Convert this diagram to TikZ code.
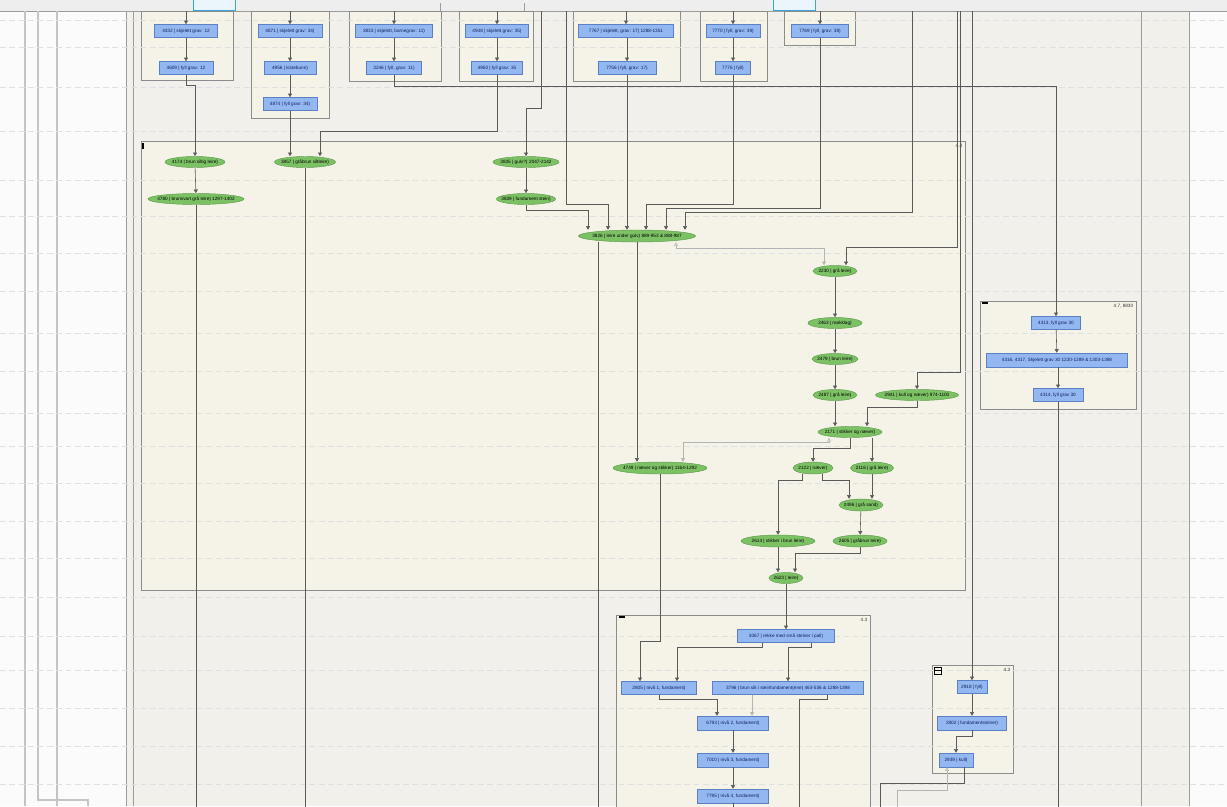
\documentclass[tikz,border=0pt]{standalone}
\usepackage{fontspec}
\newfontfamily\diagfont{Liberation Sans}
\usetikzlibrary{shapes.geometric,positioning,arrows.meta,calc}
\definecolor{pagecol}{HTML}{FBFBFB}
\definecolor{canvas}{HTML}{F2F0EA}
\definecolor{stripcol}{HTML}{EEEEEE}
\definecolor{lanecol}{HTML}{9C9C9C}
\definecolor{leftcol}{HTML}{C4C4C4}
\definecolor{rankcol}{HTML}{E0E0E0}
\definecolor{stripedge}{HTML}{3BA4DC}
\definecolor{stripfill}{HTML}{EAF5FC}
\definecolor{grpfill}{HTML}{F5F3E7}
\definecolor{grpedge}{HTML}{8C8C8C}
\definecolor{boxfill}{HTML}{93B7F0}
\definecolor{boxedge}{HTML}{5B80C6}
\definecolor{boxtext}{HTML}{10205A}
\definecolor{lyrfill}{HTML}{7CC265}
\definecolor{lyredge}{HTML}{5D9B4C}
\definecolor{edgecol}{HTML}{5A5A5A}
\definecolor{weakcol}{HTML}{B4B4B4}
\newcommand\nt[1]{\makebox[0pt]{#1}}
\newcommand\smallfont{\diagfont\fontsize{4}{4.4}\selectfont}

\begin{document}
\begin{tikzpicture}[x=0.03cm, y=-0.03cm,
  ctx/.style={draw=boxedge, fill=boxfill, rectangle, inner sep=0pt, minimum height=13*0.03cm, font=\smallfont, text=boxtext},
  lyr/.style={draw=lyredge, fill=lyrfill, ellipse, inner sep=0pt, minimum height=11*0.03cm, font=\smallfont, text=black},
  wd/.style={minimum width=#1*0.03cm},
  ht/.style={minimum height=#1*0.03cm},
  grp/.style={draw=grpedge, fill=grpfill, line width=0.7pt},
  edge/.style={draw=edgecol, line width=0.5pt, -{Triangle[width=3.4pt,length=3.2pt]}},
  link/.style={draw=edgecol, line width=0.5pt},
  weak/.style={draw=weakcol, line width=0.5pt, {Triangle[open,width=3.4pt,length=3.2pt]}-{Triangle[width=3.4pt,length=3.2pt]}},
  weakend/.style={draw=weakcol, line width=0.5pt, -{Triangle[width=3.4pt,length=3.2pt]}},
  weakstart/.style={draw=weakcol, line width=0.5pt, {Triangle[open,width=3.4pt,length=3.2pt]}-},
  rank/.style={draw=rankcol, line width=0.4pt, dash pattern=on 5pt off 3pt},
  tag/.style={font=\smallfont, inner sep=0.5pt, text=black!80}
]
  \useasboundingbox (0,0) rectangle (1227,806);

  % background lanes
  \fill[pagecol] (0,0) rectangle (1227,806);
  \fill[canvas] (126,11) rectangle (1189,806);
  \fill[stripcol] (0,0) rectangle (1227,11);
  \draw[lanecol, line width=0.6pt] (0,11) -- (1227,11);
  \foreach \x in {126,133,1141,1189}
    \draw[lanecol, line width=0.6pt] (\x,11) -- (\x,806);
  \draw[leftcol, line width=0.9pt] (25,11) -- (25,806);
  \draw[leftcol, line width=0.9pt] (57,11) -- (57,806);
  \draw[leftcol, line width=0.9pt] (38,11) -- (38,800) -- (88,800) -- (88,806);
  \draw[stripedge, fill=stripfill, line width=0.6pt] (193,-1) rectangle (235,10);
  \draw[stripedge, fill=stripfill, line width=0.6pt] (773,-1) rectangle (815,10);
  \draw[lanecol, line width=0.6pt] (440,3) -- (440,11);
  \draw[lanecol, line width=0.6pt] (524,3) -- (524,11);

  % groups
  \draw[grp] (141,11) rectangle (233,80);
  \draw[grp] (251,11) rectangle (329,118);
  \draw[grp] (349,11) rectangle (441,81);
  \draw[grp] (459,11) rectangle (533,81);
  \draw[grp] (573,11) rectangle (680,81);
  \draw[grp] (700,11) rectangle (767,81);
  \draw[grp] (784,11) rectangle (855,45);
  \draw[grp] (141,141) rectangle (965,590);
  \draw[grp] (980,301) rectangle (1136,409);
  \draw[grp] (616,615) rectangle (870,812);
  \draw[grp] (932,665) rectangle (1013,773);

  \foreach \y in {20,47,87,131,180,216,253,291,333,371,413,446,483,521,558,597,636,670,708,746,784}
    \draw[rank] (0,\y) -- (1227,\y);

  % group marks
  \fill[black] (142,143) rectangle (144,149);
  \fill[black] (982,302) rectangle (988,304);
  \fill[black] (619,616) rectangle (625,618);
  \draw[black, line width=0.5pt] (934,667) rectangle (941,674);
  \draw[black, line width=0.5pt] (934,670.5) -- (941,670.5);
  \node[tag, anchor=north east] (lbl44) at (963,143) {4.4};
  \node[tag, anchor=north east] (lbl47) at (1134,303) {4.7, 8830};
  \node[tag, anchor=north east] (lbl43) at (868,617) {4.3};
  \node[tag, anchor=north east] (lbl42) at (1011,667) {4.3};

  % contexts (boxes)
  \node[ctx, wd=63] (n4432) at (186,31) {\nt{4432 | skjelett grav: 12}};
  \node[ctx, wd=54] (n4609) at (186,68) {\nt{4609 | fyll grav: 12}};
  \node[ctx, wd=64] (n4871) at (290,31) {\nt{4871 | skjelett grav: 34)}};
  \node[ctx, wd=52] (n4956) at (290,68) {\nt{4956 | kistebunn)}};
  \node[ctx, wd=54] (n4874) at (290,104) {\nt{4874 | fyll grav: 34)}};
  \node[ctx, wd=77] (n3833) at (394,31) {\nt{3833 | skjelett, barnegrav: 11)}};
  \node[ctx, wd=55] (n3246) at (394,68) {\nt{3246 | fyll, grav: 11)}};
  \node[ctx, wd=63] (n4948) at (497,31) {\nt{4948 | skjelett grav: 35)}};
  \node[ctx, wd=51] (n4950) at (497,68) {\nt{4950 | fyll grav: 35}};
  \node[ctx, wd=95] (n7767) at (626,31) {\nt{7767 | skjelett, grav: 17) 1288-1351}};
  \node[ctx, wd=58] (n7756) at (627,68) {\nt{7756 | fyll, grav: 17)}};
  \node[ctx, wd=54] (n7770) at (733,31) {\nt{7770 | fyll, grav: 39)}};
  \node[ctx, wd=35] (n7776) at (733,68) {\nt{7776 | fyll)}};
  \node[ctx, wd=57] (n7769) at (820,31) {\nt{7769 | fyll, grav: 38)}};

  \node[ctx, wd=49] (n4313) at (1056,323) {\nt{4313, fyll grav 30}};
  \node[ctx, wd=141, ht=14] (n4316) at (1057,360) {\nt{4316, 4317, Skjelett grav 30 1220-1289 \& 1303-1398}};
  \node[ctx, wd=50] (n4314) at (1058,395) {\nt{4314, fyll grav 30}};

  \node[ctx, wd=97] (n3067) at (786,636) {\nt{3067 | rekke med små steiner i pall)}};
  \node[ctx, wd=75] (n2805) at (659,688) {\nt{2805 | nivå 1, fundament)}};
  \node[ctx, wd=151] (n3796) at (788,688) {\nt{3796 | brun silt i steinfundament(ene) 463-536 \& 1288-1398}};
  \node[ctx, wd=71, ht=14] (n6793) at (733,723) {\nt{6793 | nivå 2, fundament)}};
  \node[ctx, wd=71, ht=14] (n7010) at (733,760) {\nt{7010 | nivå 3, fundament)}};
  \node[ctx, wd=71, ht=14] (n7795) at (733,796) {\nt{7795 | nivå 4, fundament)}};

  \node[ctx, wd=30] (n2918) at (972,687) {\nt{2918 | fyll)}};
  \node[ctx, wd=69, ht=14] (n2802) at (972,723) {\nt{2802 | fundamentsteiner)}};
  \node[ctx, wd=34, ht=14] (n2939) at (956,760) {\nt{2939 | kull)}};

  % layers (ellipses)
  \node[lyr, wd=60] (n4174) at (195,162) {\nt{4174 | brun siltig leire)}};
  \node[lyr, wd=96] (n4780) at (196,199) {\nt{4780 | brunsvart grå leire) 1297-1402}};
  \node[lyr, wd=61] (n3857) at (305,162) {\nt{3857 | gråbrun siltleire)}};
  \node[lyr, wd=66] (n3835) at (526,162) {\nt{3835 | gulv?) 2047-2142}};
  \node[lyr, wd=59] (n3839) at (526,199) {\nt{3839 | fundament stein)}};
  \node[lyr, wd=117, ht=12] (n3826) at (637,236) {\nt{3826 | leire under gulv) 889-953 \& 888-987}};
  \node[lyr, wd=44] (n2230) at (835,271) {\nt{2230 | grå leire)}};
  \node[lyr, wd=54] (n2463) at (835,323) {\nt{2463 | møkklag)}};
  \node[lyr, wd=46] (n2479) at (835,359) {\nt{2479 | brun leire)}};
  \node[lyr, wd=44] (n2487) at (835,395) {\nt{2487 | grå leire)}};
  \node[lyr, wd=83] (n2941) at (917,395) {\nt{2941 | kull og næver) 974-1100}};
  \node[lyr, wd=64] (n2171) at (850,432) {\nt{2171 | stikker og næver)}};
  \node[lyr, wd=94, ht=12] (n4749) at (660,468) {\nt{4749 | næver og stikker) 1164-1292}};
  \node[lyr, wd=40, ht=12] (n2122) at (813,468) {\nt{2122 | næver)}};
  \node[lyr, wd=43, ht=12] (n2116) at (872,468) {\nt{2116 | grå leire)}};
  \node[lyr, wd=44, ht=12] (n2496) at (861,505) {\nt{2496 | grå sand)}};
  \node[lyr, wd=74, ht=12] (n2614) at (778,541) {\nt{2614 | stikker i brun leire)}};
  \node[lyr, wd=54, ht=12] (n2605) at (860,541) {\nt{2605 | gråbrun leire)}};
  \node[lyr, wd=34] (n2623) at (786,578) {\nt{2623 | leire)}};

  % free ends
  \coordinate (topedge) at (0,11);
  \coordinate (bottomedge) at (0,808);
  \coordinate (srcA) at (541,11);
  \coordinate (srcB) at (566,11);
  \coordinate (srcC) at (912,11);
  \coordinate (srcD) at (957,11);
  \coordinate (srcE) at (960,11);
  \coordinate (srcF) at (972,11);

  % edges from above
  \foreach \n in {n4432,n4871,n3833,n4948,n7767,n7770,n7769}
    \draw[edge] (\n.north |- topedge) -- (\n.north);

  % top groups
  \draw[edge] (n4432) -- (n4609);
  \draw[edge] (n4871) -- (n4956);
  \draw[edge] (n4956) -- (n4874);
  \draw[edge] (n3833) -- (n3246);
  \draw[edge] (n4948) -- (n4950);
  \draw[edge] (n7767.south -| n7756.north) -- (n7756.north);
  \draw[edge] (n7770) -- (n7776);

  \draw[edge] (n4609.south) -- (n4609.south |- 0,85) -| (n4174.north);
  \draw[edge] (n4174) -- (n4780);
  \draw[link] (n4780.south) -- (n4780.south |- bottomedge);
  \draw[edge] (n4874.south) -- (n4874.south |- n3857.north);
  \draw[edge] (n4950.south) -- (n4950.south |- 0,131) -| ($(n3857.north)+(15,0)$);
  \draw[link] (n3857.south) -- (n3857.south |- bottomedge);
  \draw[edge] (n3246.south) -- (n3246.south |- 0,86) -| (n4313.north);

  \draw[edge] (srcA) -- (srcA |- 0,108) -| (n3835.north);
  \draw[edge] (n3835) -- (n3839);
  \draw[edge] (n3839.south) -- (n3839.south |- 0,210) -| ($(n3826.north)+(-49,0)$);
  \draw[edge] (srcB) -- (srcB |- 0,204) -| ($(n3826.north)+(-29,0)$);
  \draw[edge] (n7756.south) -- (n7756.south |- n3826.north);
  \draw[edge] (n7776.south) -- (n7776.south |- 0,204) -| ($(n3826.north)+(9,0)$);
  \draw[edge] (n7769.south) -- (n7769.south |- 0,208) -| ($(n3826.north)+(29,0)$);
  \draw[edge] (srcC) -- (srcC |- 0,212) -| ($(n3826.north)+(48,0)$);
  \draw[edge] (srcD) -- (srcD |- 0,247) -| ($(n2230.north)+(11,0)$);
  \draw[edge] (srcE) -- (srcE |- 0,372) -| (n2941.north);
  \draw[edge] (srcF) -- (srcF |- n2918.north);
  \draw[weak] ($(n3826.south)+(39,0)$) -- ($(n3826.south)+(39,6)$) -| ($(n2230.north)+(-11,0)$);

  % main group
  \draw[edge] (n3826.south) -- (n3826.south |- n4749.north);
  \draw[link] ($(n3826.south)+(-39,0)$) -- ($(n3826.south |- bottomedge)+(-39,0)$);
  \draw[edge] (n2230) -- (n2463);
  \draw[edge] (n2463) -- (n2479);
  \draw[edge] (n2479) -- (n2487);
  \draw[edge] (n2487.south) -- (n2487.south |- n2171.north);
  \draw[edge] (n2941.south) -- (n2941.south |- 0,407) -| ($(n2171.north)+(17,0)$);
  \draw[edge] (n2171.south) -- (n2171.south |- 0,448) -| (n2122.north);
  \draw[edge] ($(n2171.south)+(22,0)$) -- ($(n2171.south |- n2116.north)+(22,0)$);
  \draw[weak] ($(n2171.south)+(-21,0)$) -- ($(n2171.south)+(-21,5)$) -| ($(n4749.north)+(23,0)$);
  \draw[edge] ($(n2122.south)+(9,0)$) -- ($(n2122.south)+(9,6)$) -| ($(n2496.north)+(-12,0)$);
  \draw[edge] (n2116.south) -- (n2116.south |- n2496.north);
  \draw[edge] ($(n2122.south)+(-11,0)$) -- ($(n2122.south)+(-11,6)$) -| (n2614.north);
  \draw[edge] (n2496) -- (n2605);
  \draw[edge] (n2614.south) -- (n2614.south |- n2623.north);
  \draw[edge] (n2605.south) -- (n2605.south |- 0,553) -| ($(n2623.north)+(9,0)$);
  \draw[edge] (n2623.south) -- (n2623.south |- n3067.north);

  % group 4.3
  \draw[edge] (n4749.south) -- (n4749.south |- 0,641) -| ($(n2805.north)+(-19,0)$);
  \draw[edge] ($(n3067.south)+(-24,0)$) -- ($(n3067.south)+(-24,5)$) -| ($(n2805.north)+(18,0)$);
  \draw[edge] ($(n3067.south)+(25,0)$) -- ($(n3067.south)+(25,5)$) -| (n3796.north);
  \draw[edge] (n2805.south) -- (n2805.south |- 0,699) -| ($(n6793.north)+(-16,0)$);
  \draw[weakend] ($(n3796.south)+(-36,0)$) -- ($(n3796.south |- n6793.north)+(-36,0)$);
  \draw[link] ($(n3796.south)+(39,0)$) -- ($(n3796.south)+(39,5)$) -| ($(n3796.south |- bottomedge)+(11,0)$);
  \draw[edge] (n6793) -- (n7010);
  \draw[edge] (n7010) -- (n7795);
  \draw[link] (n7795.south) -- (n7795.south |- bottomedge);

  % group 4.7
  \draw[edge] (n4313) -- (n4316);
  \draw[edge] (n4316.south -| n4314.north) -- (n4314.north);
  \draw[link] (n4314.south) -- (n4314.south |- bottomedge);

  % small group
  \draw[edge] (n2918) -- (n2802);
  \draw[edge] (n2802.south) -- (n2802.south |- 0,736) -| (n2939.north);
  \draw[link] ($(n2939.south)+(8,0)$) -- ($(n2939.south)+(8,16)$) -| ($(n2939.south |- bottomedge)+(-76,0)$);
  \draw[weakstart] ($(n2939.south)+(-9,0)$) -- ($(n2939.south)+(-9,23)$) -| ($(n2939.south |- bottomedge)+(-59,0)$);
\end{tikzpicture}
\end{document}
